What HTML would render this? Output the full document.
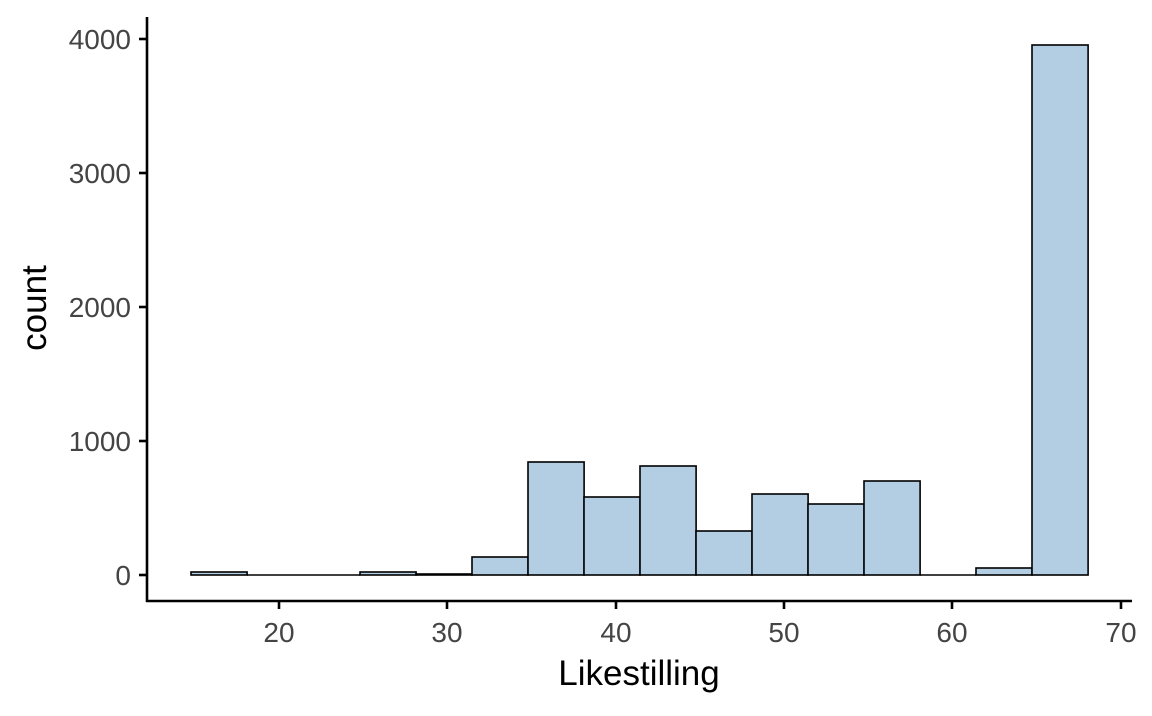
<!DOCTYPE html>
<html><head><style>body{margin:0;background:#fff}</style></head><body>
<svg width="1152" height="711" xmlns="http://www.w3.org/2000/svg" font-family="Liberation Sans, sans-serif">
<rect width="1152" height="711" fill="#fff"/>
<g fill="#b3cde3" stroke="#000" stroke-width="1.6">
<rect x="191" y="572" width="56.1" height="3"/>
<line x1="247" y1="575" x2="360" y2="575"/>
<rect x="360" y="572" width="56.1" height="3"/>
<rect x="416" y="574" width="56.1" height="1"/>
<rect x="472" y="557" width="56.1" height="18"/>
<rect x="528" y="462" width="56.1" height="113"/>
<rect x="584" y="497" width="56.1" height="78"/>
<rect x="640" y="466" width="56.1" height="109"/>
<rect x="696" y="531" width="56.1" height="44"/>
<rect x="752" y="494" width="56.1" height="81"/>
<rect x="808" y="504" width="56.1" height="71"/>
<rect x="864" y="481" width="56.1" height="94"/>
<line x1="920" y1="575" x2="976" y2="575"/>
<rect x="976" y="568" width="56.1" height="7"/>
<rect x="1032" y="45" width="56.1" height="530"/>
</g>
<g stroke="#000" stroke-width="2.6">
<line x1="147" y1="17" x2="147" y2="602"/>
<line x1="146" y1="601" x2="1132" y2="601"/>
</g>
<g stroke="#000" stroke-width="2.6">
<line x1="139" y1="575" x2="147" y2="575"/><line x1="139" y1="441" x2="147" y2="441"/>
<line x1="139" y1="307" x2="147" y2="307"/><line x1="139" y1="173" x2="147" y2="173"/>
<line x1="139" y1="39" x2="147" y2="39"/>
<line x1="279" y1="601" x2="279" y2="609"/><line x1="447" y1="601" x2="447" y2="609"/>
<line x1="616" y1="601" x2="616" y2="609"/><line x1="784" y1="601" x2="784" y2="609"/>
<line x1="952" y1="601" x2="952" y2="609"/><line x1="1121" y1="601" x2="1121" y2="609"/>
</g>
<g fill="#444" font-size="28" text-anchor="end">
<text x="131" y="585">0</text><text x="131" y="451">1000</text><text x="131" y="317">2000</text>
<text x="131" y="183">3000</text><text x="131" y="49">4000</text>
</g>
<g fill="#444" font-size="28" text-anchor="middle">
<text x="279" y="642">20</text><text x="447" y="642">30</text><text x="616" y="642">40</text>
<text x="784" y="642">50</text><text x="952" y="642">60</text><text x="1121" y="642">70</text>
</g>
<text x="639" y="685" font-size="35" text-anchor="middle">Likestilling</text>
<text transform="translate(46,308) rotate(-90)" font-size="35" text-anchor="middle">count</text>
</svg>
</body></html>
